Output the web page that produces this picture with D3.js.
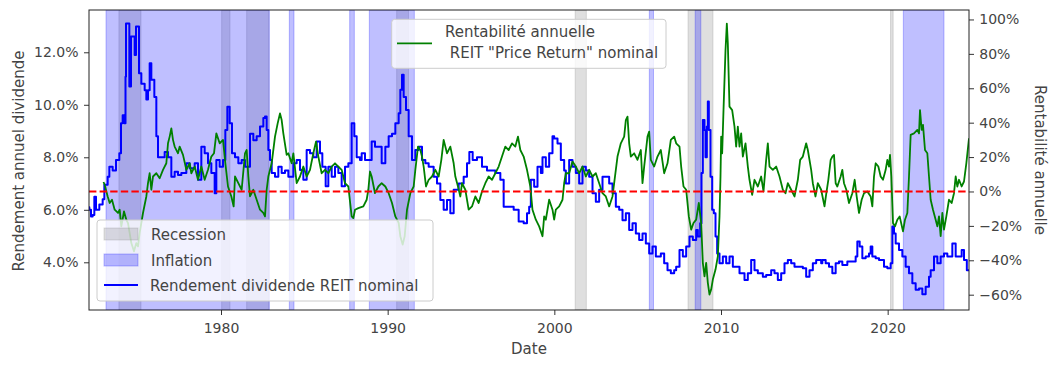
<!DOCTYPE html>
<html><head><meta charset="utf-8">
<script src="https://cdn.jsdelivr.net/npm/d3@7"></script>
<style>body{margin:0;background:#fff} text{font-family:"DejaVu Sans",sans-serif}</style>
</head><body><svg id="c" width="1059" height="369"></svg>
<script>
// ---- data (decimal year, value in %) ----
const yieldSeries = [[1972.0,6.1],[1972.1,6.0],[1972.2,5.74],[1972.3,5.8],[1972.4,6.5],[1972.5,6.0],[1972.7,6.2],[1972.9,6.4],[1973.0,6.95],[1973.2,7.26],[1973.3,7.64],[1973.5,7.5],[1973.7,7.9],[1973.9,8.15],[1974.0,9.3],[1974.1,9.6],[1974.2,9.3],[1974.27,11.07],[1974.3,13.1],[1974.46,13.1],[1974.5,10.7],[1974.6,12.6],[1974.75,12.6],[1974.82,11.9],[1974.9,12.98],[1975.08,11.2],[1975.22,10.8],[1975.42,10.55],[1975.52,10.2],[1975.62,10.55],[1975.72,11.58],[1975.82,10.95],[1976.0,10.3],[1976.12,8.8],[1976.22,8.0],[1976.42,8.0],[1976.62,8.2],[1976.82,8.0],[1977.02,7.26],[1977.22,7.45],[1977.42,7.33],[1977.62,7.4],[1977.92,7.77],[1978.12,7.58],[1978.42,7.77],[1978.62,7.14],[1978.82,8.4],[1979.02,8.15],[1979.22,7.77],[1979.42,7.4],[1979.62,6.63],[1979.72,7.9],[1979.92,7.64],[1980.12,7.9],[1980.26,9.04],[1980.38,9.93],[1980.52,9.3],[1980.66,8.15],[1980.84,8.0],[1981.04,7.77],[1981.24,7.9],[1981.44,7.64],[1981.74,8.9],[1981.94,8.65],[1982.14,8.8],[1982.34,9.17],[1982.54,9.5],[1982.64,9.55],[1982.74,9.04],[1982.84,8.28],[1982.94,7.9],[1983.04,7.4],[1983.24,7.26],[1983.44,7.64],[1983.64,7.4],[1983.84,7.5],[1984.04,7.26],[1984.34,7.77],[1984.54,7.9],[1984.74,7.52],[1984.94,7.14],[1985.14,8.28],[1985.34,8.15],[1985.54,8.0],[1985.74,8.6],[1985.94,8.15],[1986.08,7.64],[1986.28,6.9],[1986.44,7.64],[1986.64,7.26],[1986.84,7.64],[1987.04,7.4],[1987.24,6.9],[1987.44,7.64],[1987.64,7.77],[1987.84,9.3],[1988.0,8.8],[1988.14,8.0],[1988.34,7.9],[1988.44,8.15],[1988.64,7.9],[1988.84,7.9],[1989.04,8.6],[1989.24,8.4],[1989.44,8.4],[1989.64,7.77],[1989.86,8.4],[1990.06,8.8],[1990.26,8.9],[1990.46,9.3],[1990.66,9.68],[1990.76,10.57],[1990.86,11.14],[1990.96,10.3],[1991.1,9.8],[1991.26,8.8],[1991.46,7.9],[1991.66,8.28],[1991.86,8.4],[1992.06,7.9],[1992.26,7.77],[1992.46,7.64],[1992.76,7.26],[1992.96,7.0],[1993.16,6.37],[1993.36,6.0],[1993.56,6.37],[1993.76,5.87],[1993.96,6.76],[1994.26,7.0],[1994.56,7.26],[1994.76,7.77],[1994.9,8.2],[1995.1,7.9],[1995.36,8.0],[1995.66,7.64],[1995.96,7.5],[1996.16,7.5],[1996.46,7.4],[1996.76,7.14],[1996.96,6.12],[1997.26,6.12],[1997.56,6.0],[1997.86,5.55],[1998.16,5.49],[1998.36,5.87],[1998.49,6.12],[1998.59,7.14],[1998.79,6.88],[1998.99,7.64],[1999.19,7.4],[1999.29,8.0],[1999.49,7.64],[1999.69,8.15],[1999.89,8.8],[1999.99,8.72],[2000.19,8.53],[2000.39,7.9],[2000.59,7.5],[2000.69,7.0],[2000.89,7.9],[2001.09,7.64],[2001.29,7.4],[2001.49,7.0],[2001.69,7.64],[2001.89,7.5],[2002.09,7.26],[2002.29,6.63],[2002.49,6.31],[2002.69,6.76],[2002.89,7.26],[2003.09,7.26],[2003.29,7.0],[2003.49,6.63],[2003.69,6.12],[2003.89,6.0],[2004.09,5.6],[2004.29,5.87],[2004.49,5.23],[2004.69,5.49],[2004.89,5.1],[2005.09,4.85],[2005.29,5.1],[2005.49,4.72],[2005.69,4.34],[2005.89,4.6],[2006.09,4.22],[2006.39,4.34],[2006.59,3.96],[2006.79,3.7],[2006.99,3.58],[2007.19,3.7],[2007.31,3.83],[2007.51,4.47],[2007.71,4.22],[2007.91,4.6],[2008.11,4.98],[2008.31,4.85],[2008.51,5.23],[2008.61,4.98],[2008.75,5.49],[2008.83,7.4],[2008.91,9.42],[2009.01,9.04],[2009.07,8.0],[2009.15,9.17],[2009.21,10.13],[2009.27,9.04],[2009.37,7.26],[2009.47,6.0],[2009.57,5.87],[2009.67,4.98],[2009.77,4.34],[2009.91,3.96],[2010.11,4.22],[2010.31,3.96],[2010.51,4.22],[2010.71,3.83],[2010.91,3.83],[2011.11,3.58],[2011.41,3.33],[2011.61,3.58],[2011.81,4.09],[2012.01,3.7],[2012.21,3.58],[2012.51,3.45],[2012.71,3.52],[2013.01,3.7],[2013.21,3.58],[2013.41,3.33],[2013.61,3.58],[2013.81,3.96],[2014.01,4.09],[2014.21,3.96],[2014.41,3.83],[2014.71,3.83],[2014.91,3.77],[2015.11,3.45],[2015.31,3.7],[2015.51,3.96],[2015.71,4.09],[2016.01,3.96],[2016.08,4.09],[2016.28,3.96],[2016.48,3.83],[2016.68,3.58],[2016.88,3.96],[2017.08,4.03],[2017.28,3.9],[2017.58,4.03],[2017.88,4.03],[2018.08,4.22],[2018.18,4.79],[2018.32,4.6],[2018.48,4.15],[2018.68,4.22],[2018.88,4.34],[2018.98,4.6],[2019.08,4.22],[2019.28,4.15],[2019.48,4.09],[2019.78,3.83],[2019.98,3.77],[2020.18,3.96],[2020.28,5.36],[2020.38,5.1],[2020.48,4.72],[2020.68,4.47],[2020.88,4.22],[2021.08,3.83],[2021.28,3.58],[2021.48,3.2],[2021.68,2.95],[2021.88,3.0],[2022.08,2.78],[2022.28,3.07],[2022.48,3.45],[2022.58,3.7],[2022.78,4.22],[2022.98,3.96],[2023.18,4.22],[2023.38,4.34],[2023.58,4.22],[2023.88,4.72],[2024.08,4.22],[2024.28,4.22],[2024.44,4.47],[2024.58,4.09],[2024.75,3.7],[2024.88,3.68]];

const returnSeries = [[1972.95,5.5],[1973.02,3.9],[1973.2,-2.9],[1973.32,-6.7],[1973.46,-4.8],[1973.62,-10.6],[1973.82,-12.5],[1973.92,-10.6],[1974.02,-20.3],[1974.18,-11.6],[1974.32,-16.4],[1974.42,-18.4],[1974.62,-30],[1974.78,-34.8],[1974.92,-30],[1975.02,-31.9],[1975.12,-24.1],[1975.32,-12.5],[1975.52,-2.9],[1975.62,4.8],[1975.72,10.6],[1975.82,1.0],[1975.92,8.7],[1976.12,10.6],[1976.32,7.7],[1976.52,12.6],[1976.72,16.4],[1976.82,28],[1976.92,31.9],[1977.02,36.7],[1977.12,30],[1977.22,26.1],[1977.42,22.2],[1977.52,26.1],[1977.72,21.3],[1977.92,12.6],[1978.12,16.4],[1978.22,10.6],[1978.42,14.5],[1978.62,6.8],[1978.82,14.5],[1979.02,6.8],[1979.22,12.6],[1979.42,20.3],[1979.58,22.2],[1979.72,33.8],[1979.92,28],[1980.12,30],[1980.26,16.4],[1980.42,2.9],[1980.62,-2.9],[1980.76,-8.7],[1980.84,8.7],[1981.04,4.8],[1981.24,1.0],[1981.44,22.2],[1981.54,24.1],[1981.64,8.7],[1981.74,-2.9],[1981.94,1.0],[1982.14,-4.8],[1982.34,-10.6],[1982.54,-12.5],[1982.64,-14.5],[1982.74,1.0],[1982.84,8.7],[1983.04,16.4],[1983.24,31.9],[1983.4,39.6],[1983.54,45.4],[1983.64,41.5],[1983.74,33.8],[1983.94,21.3],[1984.04,22.2],[1984.24,16.4],[1984.34,22.2],[1984.54,4.8],[1984.74,8.7],[1984.94,14.5],[1985.14,8.7],[1985.34,12.6],[1985.54,22.2],[1985.7,29],[1985.84,20.3],[1986.04,10.6],[1986.24,12.6],[1986.44,10.6],[1986.64,14.5],[1986.84,16.4],[1987.04,14.5],[1987.24,12.6],[1987.44,4.8],[1987.64,2.9],[1987.84,-14.5],[1987.94,-15.5],[1988.04,-10.6],[1988.24,-9.7],[1988.54,-8.7],[1988.74,-4.8],[1988.84,1.0],[1988.94,11.6],[1989.04,8.7],[1989.24,-1.0],[1989.44,2.9],[1989.64,4.8],[1989.86,2.9],[1990.06,-1.0],[1990.26,-6.7],[1990.46,-14.5],[1990.66,-18.3],[1990.76,-26],[1990.9,-30.9],[1991.02,-26],[1991.16,-10.6],[1991.36,-1.0],[1991.56,2.9],[1991.66,12.6],[1991.82,26.1],[1991.96,24.1],[1992.06,20.3],[1992.16,14.5],[1992.3,2.9],[1992.46,6.8],[1992.66,8.7],[1992.86,12.6],[1993.06,8.7],[1993.22,18.4],[1993.36,30],[1993.56,22.2],[1993.76,26.1],[1993.96,16.4],[1994.06,8.7],[1994.22,2.9],[1994.36,-2.9],[1994.46,4.8],[1994.66,1.0],[1994.86,-10.6],[1995.06,-8.7],[1995.26,-2.9],[1995.46,-6.7],[1995.66,0],[1995.86,4.8],[1996.06,8.7],[1996.26,6.8],[1996.46,10.6],[1996.66,14.5],[1996.86,20.3],[1997.06,26.1],[1997.26,24.1],[1997.46,28],[1997.66,26.1],[1997.82,31.9],[1997.96,24.1],[1998.16,20.3],[1998.36,12.6],[1998.56,2.9],[1998.69,-10.6],[1998.89,-16.4],[1999.09,-20.3],[1999.29,-26],[1999.39,-14.5],[1999.49,-16.4],[1999.69,-4.8],[1999.89,-10.6],[1999.99,-16.4],[2000.09,-10.6],[2000.29,-8.7],[2000.49,-4.8],[2000.59,4.8],[2000.69,10.6],[2000.89,10.6],[2001.09,17.4],[2001.29,14.5],[2001.49,10.6],[2001.69,14.5],[2001.89,8.7],[2002.09,12.6],[2002.29,8.7],[2002.49,10.6],[2002.69,4.8],[2002.89,-1.0],[2003.09,-2.9],[2003.29,-8.7],[2003.49,-2.9],[2003.59,4.8],[2003.79,20.3],[2003.99,28],[2004.19,31.9],[2004.29,41.5],[2004.39,43.5],[2004.49,28],[2004.59,20.3],[2004.79,22.2],[2004.99,18.4],[2005.19,24.1],[2005.29,4.8],[2005.39,14.5],[2005.59,31.9],[2005.69,34.8],[2005.79,18.4],[2005.99,14.5],[2006.19,20.3],[2006.39,24.1],[2006.59,10.6],[2006.79,16.4],[2006.99,30],[2007.19,31.9],[2007.31,28],[2007.51,26.1],[2007.61,14.5],[2007.75,2.9],[2007.91,1.0],[2008.07,-14.5],[2008.21,-22.2],[2008.35,-18.3],[2008.51,-16.4],[2008.67,-6.7],[2008.81,-18.3],[2008.91,-41.5],[2009.01,-49.3],[2009.11,-41.5],[2009.21,-53.1],[2009.31,-59.9],[2009.41,-57],[2009.51,-51.2],[2009.67,-45.4],[2009.81,-37.7],[2009.91,-14.5],[2009.97,8.7],[2010.01,31.9],[2010.07,22.2],[2010.15,47.3],[2010.27,82],[2010.35,97.6],[2010.41,86],[2010.51,49.3],[2010.67,47.3],[2010.81,37.7],[2010.91,26.1],[2011.01,37.7],[2011.11,26.1],[2011.21,33.8],[2011.31,20.3],[2011.47,28],[2011.61,14.5],[2011.71,6.8],[2011.87,-1.9],[2012.01,6.8],[2012.21,2.9],[2012.41,8.7],[2012.55,0],[2012.71,18.4],[2012.81,28],[2012.91,14.5],[2013.11,12.6],[2013.31,14.5],[2013.51,8.7],[2013.71,1.0],[2013.87,-1.0],[2014.01,4.8],[2014.21,1.0],[2014.41,-2.9],[2014.61,6.8],[2014.75,18.4],[2014.91,20.3],[2015.11,28],[2015.21,24.1],[2015.41,12.6],[2015.51,4.8],[2015.67,-2.9],[2015.81,4.8],[2016.01,1.0],[2016.21,-8.7],[2016.32,-1.0],[2016.44,6.8],[2016.58,18.4],[2016.68,20.3],[2016.78,21.3],[2016.88,4.8],[2016.98,2.9],[2017.18,8.7],[2017.28,12.6],[2017.38,4.8],[2017.52,1.0],[2017.68,-6.7],[2017.88,-1.0],[2018.02,6.8],[2018.14,-2.9],[2018.28,-12.5],[2018.44,-4.8],[2018.58,-1.0],[2018.78,0],[2018.98,-2.9],[2019.08,-8.7],[2019.18,8.7],[2019.28,16.4],[2019.44,14.5],[2019.58,8.7],[2019.72,6.8],[2019.88,12.6],[2019.98,18.4],[2020.08,14.5],[2020.14,21.3],[2020.22,8.7],[2020.32,-18.3],[2020.44,-20.3],[2020.58,-16.4],[2020.72,-14.5],[2020.92,-23.2],[2021.04,-16.4],[2021.18,-12.5],[2021.28,8.7],[2021.38,32.9],[2021.58,33.8],[2021.78,35.8],[2021.88,33.8],[2021.94,47.3],[2022.04,35.8],[2022.12,38.7],[2022.24,24.1],[2022.38,22.2],[2022.48,8.7],[2022.58,-4.8],[2022.72,-10.6],[2022.88,-16.4],[2022.98,-20.3],[2023.08,-14.5],[2023.18,-26],[2023.28,-12.5],[2023.38,-22.2],[2023.52,-14.5],[2023.68,-4.8],[2023.84,-6.7],[2023.98,-1.0],[2024.08,8.7],[2024.18,2.9],[2024.28,6.8],[2024.44,2.9],[2024.58,5.8],[2024.72,16.4],[2024.88,30.9]];

const recessions = [[1973.875,1975.2],[1980.04,1980.54],[1981.54,1982.87],[1990.54,1991.25],[2001.25,2001.92],[2008.02,2009.52],[2020.17,2020.33]];
const inflation = [[1973.1,1982.9],[1984.1,1984.38],[1987.72,1988.0],[1988.9,1991.6],[2005.7,2005.95],[2008.45,2008.79],[2020.94,2023.38]];
const xTicks = [1980,1990,2000,2010,2020];
const yLeftTicks = [4,6,8,10,12];
const yRightTicks = [-60,-40,-20,0,20,40,60,80,100];
const labels = {x:"Date", yLeft:"Rendement annuel dividende", yRight:"Rentabilité annuelle",
  recession:"Recession", inflation:"Inflation", yieldLine:"Rendement dividende REIT nominal",
  retLine1:"Rentabilité annuelle", retLine2:" REIT \"Price Return\" nominal"};

// ---- layout ----
const L=89, R=969, T=10, B=310;
const svg = d3.select("#c");
const x = d3.scaleLinear().domain([1972.08, 2024.88]).range([L,R]);
const yL = d3.scaleLinear().domain([2.183, 13.611]).range([B,T]);
const yR = d3.scaleLinear().domain([-68.9, 105.5]).range([B,T]);

svg.append("defs").append("clipPath").attr("id","clip").append("rect")
  .attr("x",L).attr("y",T).attr("width",R-L).attr("height",B-T);

const plot = svg.append("g").attr("clip-path","url(#clip)");
plot.selectAll("rect.rec").data(recessions).join("rect").attr("class","rec")
  .attr("x",d=>x(d[0])).attr("width",d=>x(d[1])-x(d[0]))
  .attr("y",T).attr("height",B-T)
  .attr("fill","#808080").attr("fill-opacity",0.25)
  .attr("stroke","#808080").attr("stroke-opacity",0.25).attr("stroke-width",1);
plot.selectAll("rect.inf").data(inflation).join("rect").attr("class","inf")
  .attr("x",d=>x(d[0])).attr("width",d=>x(d[1])-x(d[0]))
  .attr("y",T).attr("height",B-T)
  .attr("fill","#0000ff").attr("fill-opacity",0.25)
  .attr("stroke","#0000ff").attr("stroke-opacity",0.25).attr("stroke-width",1);

plot.append("path").datum(yieldSeries)
  .attr("d", d3.line().curve(d3.curveStepAfter).x(d=>x(d[0])).y(d=>yL(d[1])))
  .attr("fill","none").attr("stroke","#0000ff").attr("stroke-width",2).attr("stroke-linejoin","round");
plot.append("path").datum(returnSeries)
  .attr("d", d3.line().x(d=>x(d[0])).y(d=>yR(d[1])))
  .attr("fill","none").attr("stroke","#008000").attr("stroke-width",1.8).attr("stroke-linejoin","round");
plot.append("line").attr("x1",L).attr("x2",R).attr("y1",yR(0)).attr("y2",yR(0))
  .attr("stroke","#ff0000").attr("stroke-width",2).attr("stroke-dasharray","7.4,3.2");

function styleAxis(g){
  g.select(".domain").remove();
  g.selectAll(".tick line").attr("stroke","#333");
  g.selectAll(".tick text").attr("fill","#444").style("font-size","14px").style("font-family","DejaVu Sans");
}
svg.append("g").attr("transform",`translate(0,${B})`)
  .call(d3.axisBottom(x).tickValues(xTicks).tickFormat(d3.format("d")).tickSize(5).tickPadding(4))
  .call(styleAxis).call(g=>g.selectAll(".tick text").attr("y",0).attr("dy",0).attr("transform","translate(0,23)"));
svg.append("g").attr("transform",`translate(${L},0)`)
  .call(d3.axisLeft(yL).tickValues(yLeftTicks).tickFormat(d=>d.toFixed(1)+"%").tickSize(5).tickPadding(5.5))
  .call(styleAxis);
svg.append("g").attr("transform",`translate(${R},0)`)
  .call(d3.axisRight(yR).tickValues(yRightTicks).tickFormat(d=>(d<0?"\u2212":"")+Math.abs(d)+"%").tickSize(5).tickPadding(5.3))
  .call(styleAxis);

svg.append("rect").attr("x",L).attr("y",T).attr("width",R-L).attr("height",B-T)
  .attr("fill","none").attr("stroke","#222").attr("stroke-width",1);

const lab = {fill:"#444","font-size":"15px"};
function txt(g, s, attrs){ const t=g.append("text").text(s); Object.entries(Object.assign({},lab,attrs)).forEach(([k,v])=>t.attr(k,v)); return t; }
txt(svg, labels.x, {x:(L+R)/2, y:354, "text-anchor":"middle"});
txt(svg, labels.yLeft, {transform:"translate(24,161) rotate(-90)", "text-anchor":"middle"});
txt(svg, labels.yRight, {transform:"translate(1035,160) rotate(90)", "text-anchor":"middle"});

const lg1 = svg.append("g");
lg1.append("rect").attr("x",97).attr("y",220).attr("width",336).attr("height",81).attr("rx",3)
  .attr("fill","#fff").attr("fill-opacity",0.8).attr("stroke","#ccc");
lg1.append("rect").attr("x",104).attr("y",228).attr("width",34).attr("height",12)
  .attr("fill","#808080").attr("fill-opacity",0.25).attr("stroke","#808080").attr("stroke-opacity",0.25);
lg1.append("rect").attr("x",104).attr("y",254).attr("width",34).attr("height",12)
  .attr("fill","#0000ff").attr("fill-opacity",0.25).attr("stroke","#0000ff").attr("stroke-opacity",0.25);
lg1.append("line").attr("x1",104).attr("x2",138).attr("y1",285).attr("y2",285).attr("stroke","#0000ff").attr("stroke-width",2);
txt(lg1, labels.recession, {x:151, y:240});
txt(lg1, labels.inflation, {x:151, y:266});
txt(lg1, labels.yieldLine, {x:150, y:290.5});

const lg2 = svg.append("g");
lg2.append("rect").attr("x",391.7).attr("y",19.3).attr("width",274.3).attr("height",49).attr("rx",3)
  .attr("fill","#fff").attr("fill-opacity",0.8).attr("stroke","#ccc");
lg2.append("line").attr("x1",397).attr("x2",432).attr("y1",43.3).attr("y2",43.3).attr("stroke","#008000").attr("stroke-width",1.8);
txt(lg2, labels.retLine1, {x:445, y:37});
txt(lg2, labels.retLine2, {x:445, y:58}).style("white-space","pre");
</script></body></html>
